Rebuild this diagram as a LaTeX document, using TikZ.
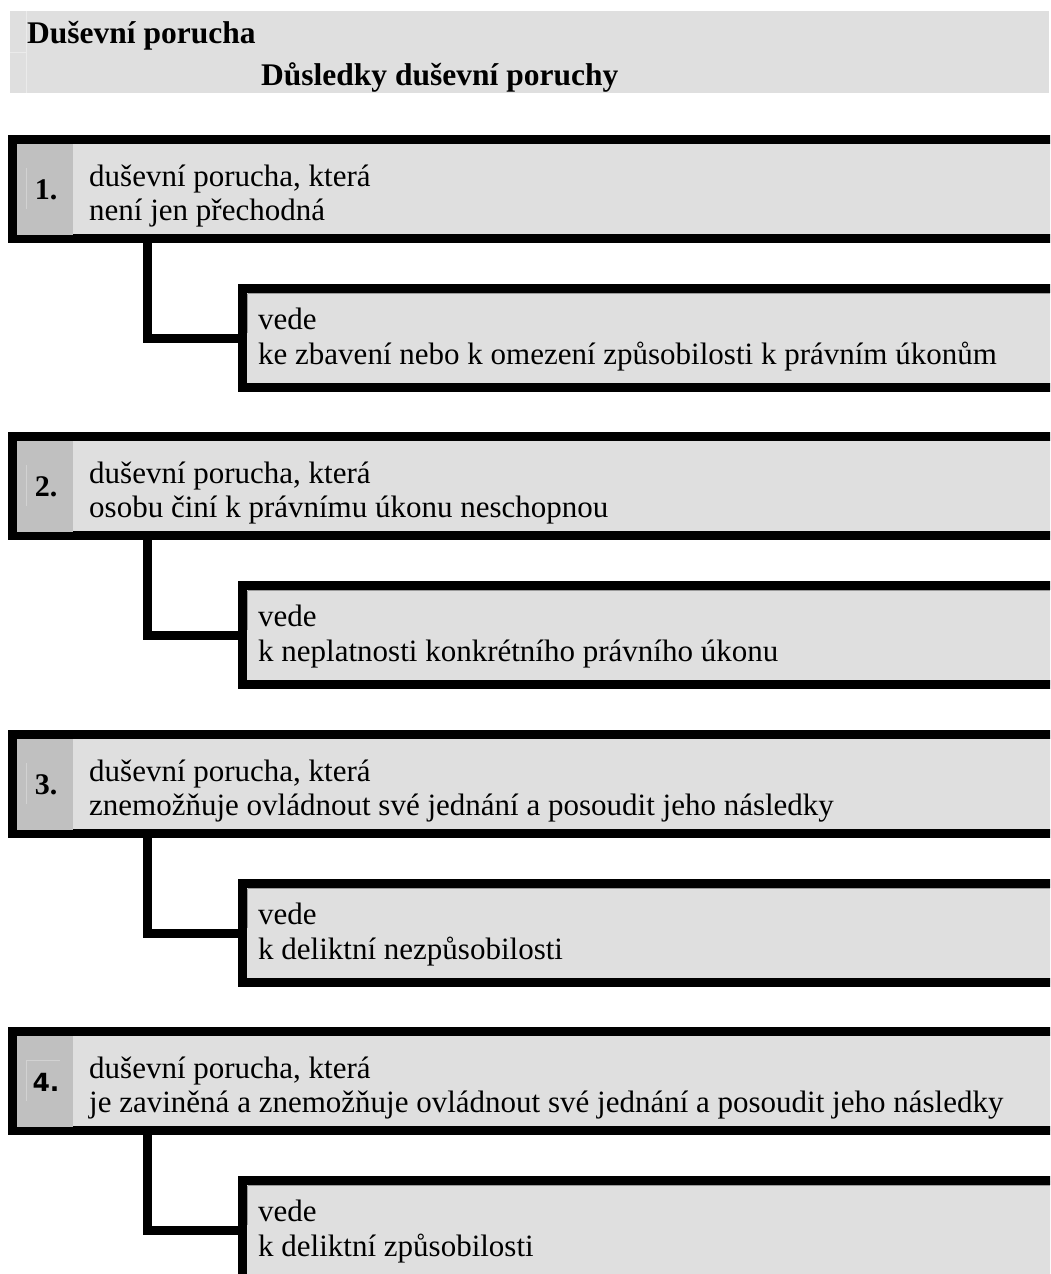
\documentclass[tikz,border=0pt]{standalone}
\usepackage{fontspec}
\setmainfont{Liberation Serif}
\newfontfamily\numsans{DejaVu Sans}
\newfontfamily\numserif{Liberation Serif}
\definecolor{boxgray}{HTML}{DFDFDF}
\definecolor{numgray}{HTML}{C0C0C0}
\definecolor{faintline}{HTML}{D2D2D2}
\definecolor{hdrline}{HTML}{EBEBEB}
\definecolor{edgegray}{HTML}{9A9A9A}
\begin{document}
\begin{tikzpicture}[x=1pt,y=-1pt,
  mainbox/.style={draw=black, line width=9pt, fill=boxgray, minimum width=1087.5pt,
    minimum height=99pt, inner sep=0pt, outer sep=4.5pt, anchor=north west},
  childbox/.style={mainbox, minimum width=857.5pt},
  numcell/.style={fill=numgray, minimum width=56pt, minimum height=91pt, inner sep=0pt,
    outer sep=0pt, anchor=north west, font=\numserif\bfseries\fontsize{30}{32}\selectfont},
  txt/.style={anchor=base west, inner sep=0pt, font=\fontsize{31}{35}\selectfont},
  hdrtxt/.style={anchor=base west, inner sep=0pt, font=\bfseries\fontsize{31.5}{35}\selectfont},
  conn/.style={draw=black, line width=9pt},
  faint/.style={draw=faintline, line width=1pt},
  edge/.style={draw=edgegray, line width=0.8pt}]
\useasboundingbox (0,0) rectangle (1050,1274);
\clip (0,0) rectangle (1050,1274);

% header
\node[fill=boxgray, minimum width=1039pt, minimum height=82pt, inner sep=0pt, outer sep=0pt, anchor=north west] (hdr) at (10,11) {};
\draw[draw=hdrline, line width=1pt] (26,11) -- (26,93);
\draw[draw=hdrline, line width=1pt] (10,52) -- (26,52);
\node[hdrtxt] (h1) at (27,43) {Duševní porucha};
\node[hdrtxt] (h2) at (261,85) {Důsledky duševní poruchy};

% block 1
\node[mainbox] (b1) at (8,135) {};
\node[numcell] (n1) at (17,144) {};
\draw[faint] (26,168) -- (26,209);
\node[inner sep=0pt, font=\numserif\bfseries\fontsize{30}{32}\selectfont] (m1) at (46,190) {1.};
\node[txt] (t1a) at (89,186) {duševní porucha, která};
\node[txt] (t1b) at (89,220) {není jen přechodná};
\node[childbox] (c1) at (238,284) {};
\draw[edge] (247.5,293.5) -- (1050,293.5);
\draw[edge] (247.5,293.5) -- (247.5,333);
\node[txt] (d1a) at (258,329) {vede};
\node[txt] (d1b) at (258,364) {ke zbavení nebo k omezení způsobilosti k právním úkonům};
\draw[conn] ([xshift=139.5pt]b1.south west) |- (c1.west);

% block 2
\node[mainbox] (b2) at (8,432) {};
\node[numcell] (n2) at (17,441) {};
\draw[faint] (26,465) -- (26,506);
\node[inner sep=0pt, font=\numserif\bfseries\fontsize{30}{32}\selectfont] (m2) at (46,487) {2.};
\node[txt] (t2a) at (89,483) {duševní porucha, která};
\node[txt] (t2b) at (89,517) {osobu činí k právnímu úkonu neschopnou};
\node[childbox] (c2) at (238,581) {};
\draw[edge] (247.5,590.5) -- (1050,590.5);
\draw[edge] (247.5,590.5) -- (247.5,630);
\node[txt] (d2a) at (258,626) {vede};
\node[txt] (d2b) at (258,661) {k neplatnosti konkrétního právního úkonu};
\draw[conn] ([xshift=139.5pt]b2.south west) |- (c2.west);

% block 3
\node[mainbox] (b3) at (8,730) {};
\node[numcell] (n3) at (17,739) {};
\draw[faint] (26,763) -- (26,804);
\node[inner sep=0pt, font=\numserif\bfseries\fontsize{30}{32}\selectfont] (m3) at (46,785) {3.};
\node[txt] (t3a) at (89,781) {duševní porucha, která};
\node[txt] (t3b) at (89,815) {znemožňuje ovládnout své jednání a posoudit jeho následky};
\node[childbox] (c3) at (238,879) {};
\draw[edge] (247.5,888.5) -- (1050,888.5);
\draw[edge] (247.5,888.5) -- (247.5,928);
\node[txt] (d3a) at (258,924) {vede};
\node[txt] (d3b) at (258,959) {k deliktní nezpůsobilosti};
\draw[conn] ([xshift=139.5pt]b3.south west) |- (c3.west);

% block 4
\node[mainbox] (b4) at (8,1027) {};
\node[numcell] (n4) at (17,1036) {};
\draw[faint] (26,1060) -- (26,1101);
\draw[faint] (26,1060) -- (60,1060);
\node[inner sep=0pt, font=\numsans\bfseries\fontsize{25}{28}\selectfont] (m4) at (46,1082) {4.};
\node[txt] (t4a) at (89,1078) {duševní porucha, která};
\node[txt] (t4b) at (89,1112) {je zaviněná a znemožňuje ovládnout své jednání a posoudit jeho následky};
\node[childbox] (c4) at (238,1176) {};
\draw[edge] (247.5,1185.5) -- (1050,1185.5);
\draw[edge] (247.5,1185.5) -- (247.5,1225);
\node[txt] (d4a) at (258,1221) {vede};
\node[txt] (d4b) at (258,1256) {k deliktní způsobilosti};
\draw[conn] ([xshift=139.5pt]b4.south west) |- (c4.west);
\end{tikzpicture}
\end{document}
